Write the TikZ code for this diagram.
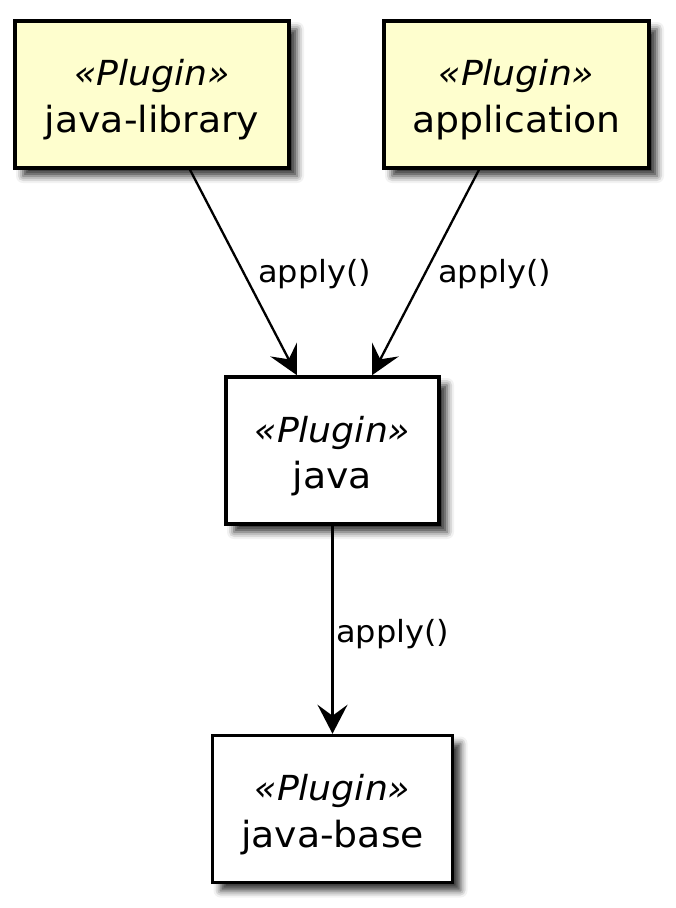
\documentclass[tikz,border=0pt]{standalone}
\usepackage{fontspec}
\setmainfont[FakeStretch=1.05]{DejaVu Sans}
\usetikzlibrary{arrows.meta,shadows.blur}
\definecolor{plugfill}{HTML}{FEFECE}
\tikzset{
  plugbox/.style={draw=black, line width=3.5pt, minimum width=#1, minimum height=147pt, inner sep=0pt,
    blur shadow={shadow xshift=8pt, shadow yshift=-8pt, shadow blur radius=7pt, shadow opacity=80}},
  stereo/.style={anchor=base, inner sep=0pt, font=\fontsize{34.5}{40}\selectfont\itshape},
  mainname/.style={anchor=base, inner sep=0pt, font=\fontsize{36}{40}\selectfont},
  lbl/.style={anchor=base west, inner sep=0pt, font=\fontsize{30.5}{34}\selectfont},
  arr/.style={line width=2.3pt, -{Stealth[length=29pt,width=30pt,inset=11pt]}}
}
\begin{document}
\begin{tikzpicture}[x=1pt,y=-1pt]
\useasboundingbox (0,0) rectangle (676,908);
% boxes
\node[plugbox=274pt, fill=plugfill] (jl) at (152,94.5) {};
\node[plugbox=265pt, fill=plugfill] (app) at (516.5,94.5) {};
\node[plugbox=213pt, fill=white] (java) at (332.5,450.5) {};
\node[plugbox=240pt, fill=white] (jb) at (332.5,809) {};
% texts
\node[stereo] (jls) at (152,85) {«Plugin»};
\node[mainname] (jlt) at (152,132) {java-library};
\node[stereo] (apps) at (516.5,85) {«Plugin»};
\node[mainname] (appt) at (516.5,132) {application};
\node[stereo] (javas) at (332.5,442) {«Plugin»};
\node[mainname] (javat) at (332.5,488) {java};
\node[stereo] (jbs) at (332.5,800) {«Plugin»};
\node[mainname] (jbt) at (332.5,847) {java-base};
% connectors
\draw[arr] ([xshift=38pt]jl.south) -- ([xshift=-35.5pt]java.north);
\draw[arr] ([xshift=-37.5pt]app.south) -- ([xshift=39.5pt]java.north);
\draw[arr] (java.south) -- (jb.north);
% labels
\node[lbl] (l1) at (258,282) {apply()};
\node[lbl] (l2) at (438,282) {apply()};
\node[lbl] (l3) at (336,642) {apply()};
\end{tikzpicture}
\end{document}
